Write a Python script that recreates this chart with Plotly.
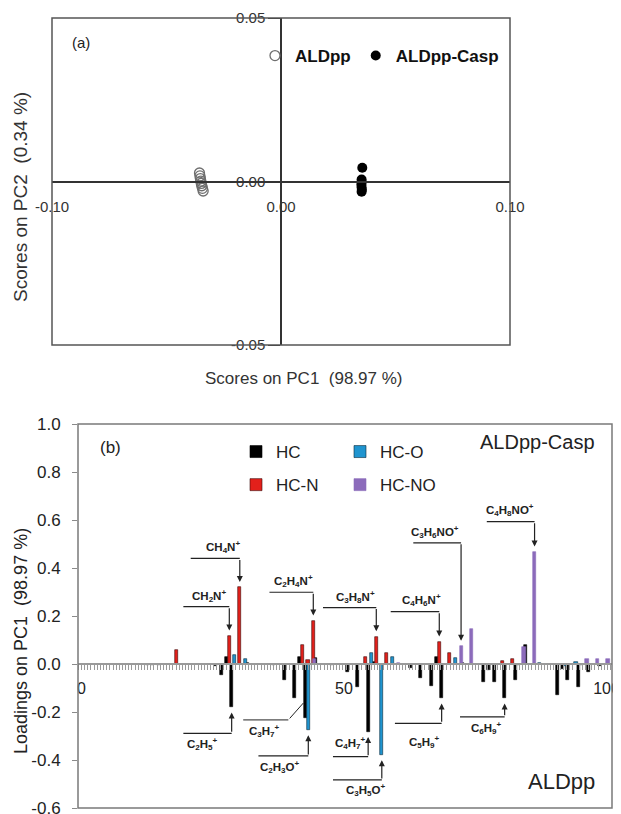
import plotly.graph_objects as go

# ---------------- Panel (a): PCA scores ----------------
aldpp_pc1 = [-0.0356, -0.0354, -0.0352, -0.0350, -0.0348, -0.0346, -0.0343, -0.0340]
aldpp_pc2 = [0.0026, 0.0017, 0.0009, 0.0001, -0.0006, -0.0013, -0.0021, -0.0029]
casp_pc1 = [0.0355, 0.0352, 0.0352, 0.0351, 0.0352, 0.0353, 0.0352]
casp_pc2 = [0.0042, 0.0006, -0.0002, -0.0010, -0.0018, -0.0025, -0.0031]

# ---------------- Panel (b): PC1 loadings by m/z ----------------
hc_mz = [13, 14, 15, 26, 27, 28, 29, 32, 37, 39, 41, 42, 43, 45, 48, 51, 53, 55, 56,
         63, 65, 67, 68, 69, 73, 77, 78, 79, 81, 83, 85, 91, 92, 93, 95, 97, 99]
hc_val = [-0.004, -0.006, -0.004, -0.008, -0.046, 0.028, -0.180, 0.004, -0.004, -0.067,
          -0.143, 0.028, -0.226, 0.025, -0.005, -0.032, -0.095, -0.282, 0.010,
          -0.015, -0.060, -0.090, 0.028, -0.143, 0.005, -0.077, -0.025, -0.074, -0.143,
          -0.067, 0.079, -0.129, -0.020, -0.067, -0.094, -0.032, -0.008]

hco_mz = [29, 31, 43, 55, 57, 59, 71, 83, 87, 92, 94, 95]
hco_val = [0.037, 0.020, -0.275, 0.044, -0.379, 0.028, 0.024, -0.006, 0.005, -0.008, 0.010, -0.006]

hcn_mz = [18, 28, 30, 42, 43, 44, 54, 56, 58, 68, 70, 80, 82]
hcn_val = [0.058, 0.118, 0.320, 0.079, 0.018, 0.180, 0.028, 0.114, 0.044, 0.093, 0.047, 0.014, 0.020]

hcno_mz = [44, 60, 72, 74, 84, 86, 96, 98, 100]
hcno_val = [0.020, 0.006, 0.075, 0.144, 0.072, 0.468, 0.020, 0.022, 0.022]

x_ticks_b = [0, 50, 100]
y_ticks_b = [1.0, 0.8, 0.6, 0.4, 0.2, 0.0, -0.2, -0.4, -0.6]

FONT = "Arial, Liberation Sans, sans-serif"
W, H = 621, 814
OFF = 8  # page body margin


def PX(p):
    return (p - OFF) / W


def PY(p):
    return 1 - (p - OFF) / H


# domains from pixel layout
xa_dom = [PX(52), PX(510)]
ya_dom = [PY(345), PY(18)]
xb_dom = [PX(78), PX(612)]
yb_dom = [PY(808), PY(424)]

fig = go.Figure()

# ---- panel (a) traces
fig.add_trace(go.Scatter(
    x=aldpp_pc1, y=aldpp_pc2, mode="markers", name="ALDpp",
    marker=dict(symbol="circle-open", size=10, color="#6e6e6e", line=dict(width=1.3)),
    xaxis="x", yaxis="y", legend="legend3"))
fig.add_trace(go.Scatter(
    x=casp_pc1, y=casp_pc2, mode="markers", name="ALDpp-Casp",
    marker=dict(symbol="circle", size=10, color="#000000"),
    xaxis="x", yaxis="y", legend="legend3"))

# ---- panel (b) traces
BW = 0.6
series = [
    ("HC", hc_mz, hc_val, "#000000", "#000000", -0.7, "legend"),
    ("HC-N", hcn_mz, hcn_val, "#e3201b", "#3a0a0a", -0.15, "legend"),
    ("HC-O", hco_mz, hco_val, "#1f94cf", "#0a2a3a", -0.1, "legend2"),
    ("HC-NO", hcno_mz, hcno_val, "#8c6bbb", "#8c6bbb", 0.0, "legend2"),
]
offsets = {}
for name, xs, ys, col, lcol, off, lg in series:
    offsets[name] = off
    fig.add_trace(go.Bar(
        x=xs, y=ys, name=name, width=BW, offset=off,
        marker=dict(color=col, line=dict(color=lcol, width=0.6)),
        xaxis="x2", yaxis="y2", legend=lg, legendgroup=name))

data_lookup = {
    "HC": dict(zip(hc_mz, hc_val)),
    "HC-N": dict(zip(hcn_mz, hcn_val)),
    "HC-O": dict(zip(hco_mz, hco_val)),
    "HC-NO": dict(zip(hcno_mz, hcno_val)),
}

# ion labels: (text, family, m/z, x_left, y_line, text_x, text_y)
ion_labels = [
    ("CH<sub>4</sub>N<sup>+</sup>", "HC-N", 30, 20.8, 0.440, 26.9, 0.487),
    ("CH<sub>2</sub>N<sup>+</sup>", "HC-N", 28, 19.4, 0.239, 24.3, 0.285),
    ("C<sub>2</sub>H<sub>4</sub>N<sup>+</sup>", "HC-N", 44, 35.8, 0.299, 40.3, 0.346),
    ("C<sub>3</sub>H<sub>8</sub>N<sup>+</sup>", "HC-N", 56, 46.0, 0.235, 52.1, 0.280),
    ("C<sub>4</sub>H<sub>6</sub>N<sup>+</sup>", "HC-N", 68, 58.9, 0.218, 64.8, 0.265),
    ("C<sub>3</sub>H<sub>6</sub>NO<sup>+</sup>", "HC-NO", 72, 63.2, 0.505, 67.3, 0.552),
    ("C<sub>4</sub>H<sub>8</sub>NO<sup>+</sup>", "HC-NO", 86, 77.2, 0.593, 81.6, 0.640),
    ("C<sub>2</sub>H<sub>5</sub><sup>+</sup>", "HC", 29, 19.4, -0.289, 23.1, -0.333),
    ("C<sub>2</sub>H<sub>3</sub>O<sup>+</sup>", "HC-O", 43, 33.7, -0.383, 37.8, -0.431),
    ("C<sub>4</sub>H<sub>7</sub><sup>+</sup>", "HC", 55, 47.9, -0.386, 51.3, -0.329),
    ("C<sub>3</sub>H<sub>5</sub>O<sup>+</sup>", "HC-O", 57, 47.9, -0.483, 54.2, -0.525),
    ("C<sub>5</sub>H<sub>9</sub><sup>+</sup>", "HC", 69, 59.7, -0.247, 65.4, -0.325),
    ("C<sub>6</sub>H<sub>9</sub><sup>+</sup>", "HC", 81, 72.1, -0.220, 77.2, -0.267),
]

shapes = []
annotations = []
GAP = 0.022
LINEC = "#222222"
LBLFONT = dict(family=FONT, size=11.5, color="#222")
for text, fam, mz, xl, yl, tx, ty in ion_labels:
    v = data_lookup[fam][mz]
    xc = mz + offsets[fam] + BW / 2
    tip = v + GAP if v > 0 else v - GAP
    shapes.append(dict(type="line", xref="x2", yref="y2", x0=xl, x1=xc, y0=yl, y1=yl,
                       line=dict(color=LINEC, width=1.2)))
    annotations.append(dict(x=xc, y=tip, ax=xc, ay=yl, xref="x2", yref="y2",
                            axref="x2", ayref="y2", text="", showarrow=True,
                            arrowhead=2, arrowsize=1, arrowwidth=1.2, arrowcolor=LINEC,
                            standoff=0, startstandoff=0))
    annotations.append(dict(x=tx, y=ty, xref="x2", yref="y2", text="<b>" + text + "</b>",
                            showarrow=False, font=LBLFONT))

# C3H7+ label with diagonal leader to the HC bar at m/z 43
c3h7_v = data_lookup["HC"][43]
c3h7_x = 43 + offsets["HC"] + BW / 2
shapes.append(dict(type="line", xref="x2", yref="y2", x0=30.8, x1=39.4, y0=-0.233, y1=-0.233,
                   line=dict(color=LINEC, width=1.0)))
annotations.append(dict(x=c3h7_x - 0.35, y=c3h7_v * 0.72, ax=39.4, ay=-0.233, xref="x2", yref="y2",
                        axref="x2", ayref="y2", text="", showarrow=True, arrowhead=0,
                        arrowwidth=1.0, arrowcolor=LINEC, standoff=0))
annotations.append(dict(x=34.95, y=-0.279, xref="x2", yref="y2",
                        text="<b>C<sub>3</sub>H<sub>7</sub><sup>+</sup></b>",
                        showarrow=False, font=LBLFONT))

# frames
shapes.append(dict(type="rect", xref="x domain", yref="y domain", x0=0, x1=1, y0=0, y1=1,
                   line=dict(color="#555555", width=1.5)))
shapes.append(dict(type="rect", xref="x2 domain", yref="y2 domain", x0=0, x1=1, y0=0, y1=1,
                   line=dict(color="#7a7a7a", width=1.5)))


def note(x, y, text, size, color="#222", angle=0, xanchor="center", bold=False):
    return dict(x=PX(x), y=PY(y), xref="paper", yref="paper", text=text, showarrow=False,
                xanchor=xanchor, yanchor="middle", textangle=angle,
                font=dict(family=FONT, size=size, color=color,
                          weight="bold" if bold else "normal"))


annotations += [
    note(70, 43, "(a)", 15, xanchor="left"),
    note(303, 378, "Scores on PC1  (98.97 %)", 17, color="#333"),
    note(21, 197, "Scores on PC2  (0.34 %)", 19, color="#333", angle=-90),
    note(98, 447, "(b)", 17, xanchor="left"),
    note(597, 442, "ALDpp-Casp", 20, xanchor="right"),
    note(597, 781, "ALDpp", 22, xanchor="right"),
    note(21, 641, "Loadings on PC1  (98.97 %)", 18, angle=-90),
]

yb_zero = yb_dom[0] + (0 - (-0.6)) / 1.6 * (yb_dom[1] - yb_dom[0])

fig.update_layout(
    width=W, height=H, margin=dict(l=0, r=0, t=0, b=0),
    paper_bgcolor="white", plot_bgcolor="white",
    font=dict(family=FONT, color="#222"),
    barmode="overlay", bargap=0,
    shapes=shapes, annotations=annotations,
    xaxis=dict(domain=xa_dom, range=[-0.1, 0.1], anchor="free",
               position=(ya_dom[0] + ya_dom[1]) / 2,
               showgrid=False, zeroline=False, showline=True, linecolor="#333", linewidth=1.5,
               tickvals=[-0.1, 0.0, 0.1], ticktext=["-0.10", "0.00", "0.10"],
               ticks="", ticklabelstandoff=12,
               tickfont=dict(family=FONT, size=15, color="#333"), automargin=False),
    yaxis=dict(domain=ya_dom, range=[-0.05, 0.05], anchor="free",
               position=(xa_dom[0] + xa_dom[1]) / 2,
               showgrid=False, zeroline=False, showline=True, linecolor="#333", linewidth=1.5,
               tickvals=[-0.05, 0.0, 0.05], ticktext=["-0.05", "0.00", "0.05"],
               ticks="outside", ticklen=12, tickcolor="#333", tickwidth=1.2,
               tickfont=dict(family=FONT, size=15, color="#333"), automargin=False),
    xaxis2=dict(domain=xb_dom, range=[-0.67, 101.05], anchor="free", position=yb_zero,
                showgrid=False, zeroline=False, showline=True, linecolor="#9a9a9a", linewidth=1.5,
                tickvals=x_ticks_b, ticktext=[str(t) for t in x_ticks_b],
                ticks="", ticklabelstandoff=10,
                minor=dict(ticks="outside", ticklen=5, tickcolor="#9a9a9a", tick0=0, dtick=0.6,
                           tickwidth=1),
                tickfont=dict(family=FONT, size=16, color="#222"), automargin=False),
    yaxis2=dict(domain=yb_dom, range=[-0.6, 1.0], anchor="x2",
                showgrid=False, zeroline=False, showline=False,
                tickvals=y_ticks_b, ticktext=["%.1f" % t for t in y_ticks_b],
                ticks="outside", ticklen=5, tickcolor="#8a8a8a", ticklabelstandoff=8,
                tickfont=dict(family=FONT, size=17, color="#222"), automargin=False),
    legend=dict(x=PX(236), y=PY(434), xanchor="left", yanchor="top",
                orientation="v", bgcolor="rgba(0,0,0,0)", tracegroupgap=8,
                font=dict(family=FONT, size=17, color="#222"), itemwidth=30),
    legend2=dict(x=PX(340), y=PY(434), xanchor="left", yanchor="top",
                 orientation="v", bgcolor="rgba(0,0,0,0)", tracegroupgap=8,
                 font=dict(family=FONT, size=17, color="#222"), itemwidth=30),
    legend3=dict(x=PX(504), y=PY(38), xanchor="right", yanchor="top",
                 orientation="h", bgcolor="rgba(0,0,0,0)",
                 font=dict(family=FONT, size=17, color="#111", weight="bold"), itemwidth=30),
)

fig.write_html("out.html")
